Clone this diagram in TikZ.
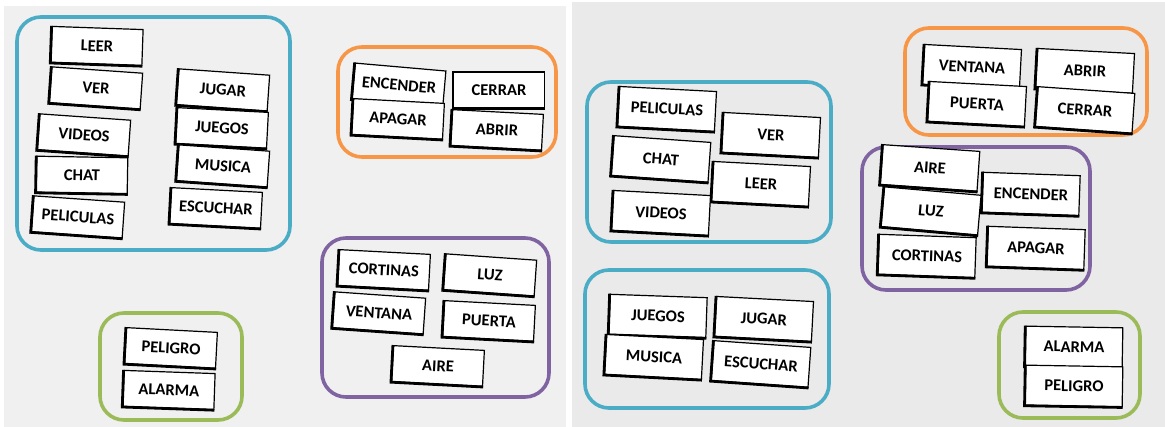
\documentclass[tikz,border=0pt]{standalone}
\usepackage{fontspec}
\setmainfont{Carlito}
\definecolor{gblue}{HTML}{4BACC6}
\definecolor{gorange}{HTML}{F79646}
\definecolor{gpurple}{HTML}{8064A2}
\definecolor{ggreen}{HTML}{9BBB59}
\definecolor{paperL}{HTML}{F0F0F1}
\definecolor{paperR}{HTML}{EAEAEB}
\tikzset{
  group/.style={line width=3.6pt, rounded corners=24pt},
  card/.style={draw=black, fill=white, line width=1.2pt, inner sep=0pt,
    minimum width=91pt, minimum height=36pt,
    font=\fontsize{16.5}{18}\selectfont\bfseries},
  cardR/.style={card, minimum width=97pt, minimum height=40pt},
  cardedge/.style={black, line width=2.8pt, line join=miter}
}
\newcommand{\crd}[5]{%
  \node[#2, rotate=#3] (#1) at (#4) {#5};
  \draw[cardedge] (#1.north west) -- (#1.south west) -- (#1.south east);}
\begin{document}
\begin{tikzpicture}[x=1pt,y=-1pt]
\useasboundingbox (0,0) rectangle (1165,427);
\fill[white] (0,0) rectangle (1165,427);
% photo backgrounds
\fill[paperL] (4,6) rectangle (566,427);
\fill[paperR] (572,2) rectangle (1165,427);

% ---------- left panel ----------
\draw[group, gblue]   (17,17) rectangle (290,250);
\draw[group, gorange] (338,47) rectangle (556,157);
\draw[group, gpurple] (322,238) rectangle (549,397);
\draw[group, ggreen]  (100,313) rectangle (242,420);

\crd{lLeer}{card}{-2}{97,46}{LEER}
\crd{lVer}{card}{-4}{96,88}{VER}
\crd{lVideos}{card}{-4}{84,135}{VIDEOS}
\crd{lChat}{card}{-1}{82,175}{CHAT}
\crd{lPeliculas}{card}{-4}{78,217}{PELICULAS}
\crd{lJugar}{card}{-4}{223,90}{JUGAR}
\crd{lJuegos}{card}{-3}{222,128}{JUEGOS}
\crd{lMusica}{card}{-4}{223,166}{MUSICA}
\crd{lEscuchar}{card}{-3}{216,208}{ESCUCHAR}
\crd{lEncender}{card}{-5}{399,85}{ENCENDER}
\crd{lCerrar}{card}{0}{499,90}{CERRAR}
\crd{lApagar}{card}{-3}{398,119}{APAGAR}
\crd{lAbrir}{card}{-3}{497,130}{ABRIR}
\crd{lCortinas}{card}{-3}{384,270}{CORTINAS}
\crd{lLuz}{card}{-4}{490,275}{LUZ}
\crd{lVentana}{card}{-4}{379,313}{VENTANA}
\crd{lPuerta}{card}{-3}{489,321}{PUERTA}
\crd{lAire}{card}{-3}{438,366}{AIRE}
\crd{lPeligro}{card}{-3}{171,348}{PELIGRO}
\crd{lAlarma}{card}{-2}{169,390}{ALARMA}

% ---------- right panel ----------
\draw[group, gblue]   (587,82) rectangle (831,242);
\draw[group, gorange] (905,28) rectangle (1147,135);
\draw[group, gpurple] (862,147) rectangle (1090,290);
\draw[group, gblue]   (585,270) rectangle (829,408);
\draw[group, ggreen]  (999,312) rectangle (1140,418);

\crd{rPeliculas}{cardR}{-3}{667,109}{PELICULAS}
\crd{rVer}{cardR}{-3}{771,135}{VER}
\crd{rChat}{cardR}{-4}{661,159}{CHAT}
\crd{rLeer}{cardR}{-3}{761,184}{LEER}
\crd{rVideos}{cardR}{-3}{661,213}{VIDEOS}
\crd{rVentana}{cardR}{-3}{972,67}{VENTANA}
\crd{rAbrir}{cardR}{-3}{1085,71}{ABRIR}
\crd{rPuerta}{cardR}{-3}{977,104}{PUERTA}
\crd{rCerrar}{cardR}{-4}{1085,110}{CERRAR}
\crd{rAire}{cardR}{-4}{930,168}{AIRE}
\crd{rEncender}{cardR}{-2}{1031,194}{ENCENDER}
\crd{rLuz}{cardR}{-5}{931,211}{LUZ}
\crd{rCortinas}{cardR}{-2}{927,256}{CORTINAS}
\crd{rApagar}{cardR}{-2}{1036,248}{APAGAR}
\crd{rJuegos}{cardR}{-2}{658,316}{JUEGOS}
\crd{rJugar}{cardR}{-3}{764,319}{JUGAR}
\crd{rMusica}{cardR}{-3}{654,357}{MUSICA}
\crd{rEscuchar}{cardR}{-4}{761,364}{ESCUCHAR}
\crd{rAlarma}{cardR}{-1}{1074,347}{ALARMA}
\crd{rPeligro}{cardR}{-1}{1074,386}{PELIGRO}
\end{tikzpicture}
\end{document}
